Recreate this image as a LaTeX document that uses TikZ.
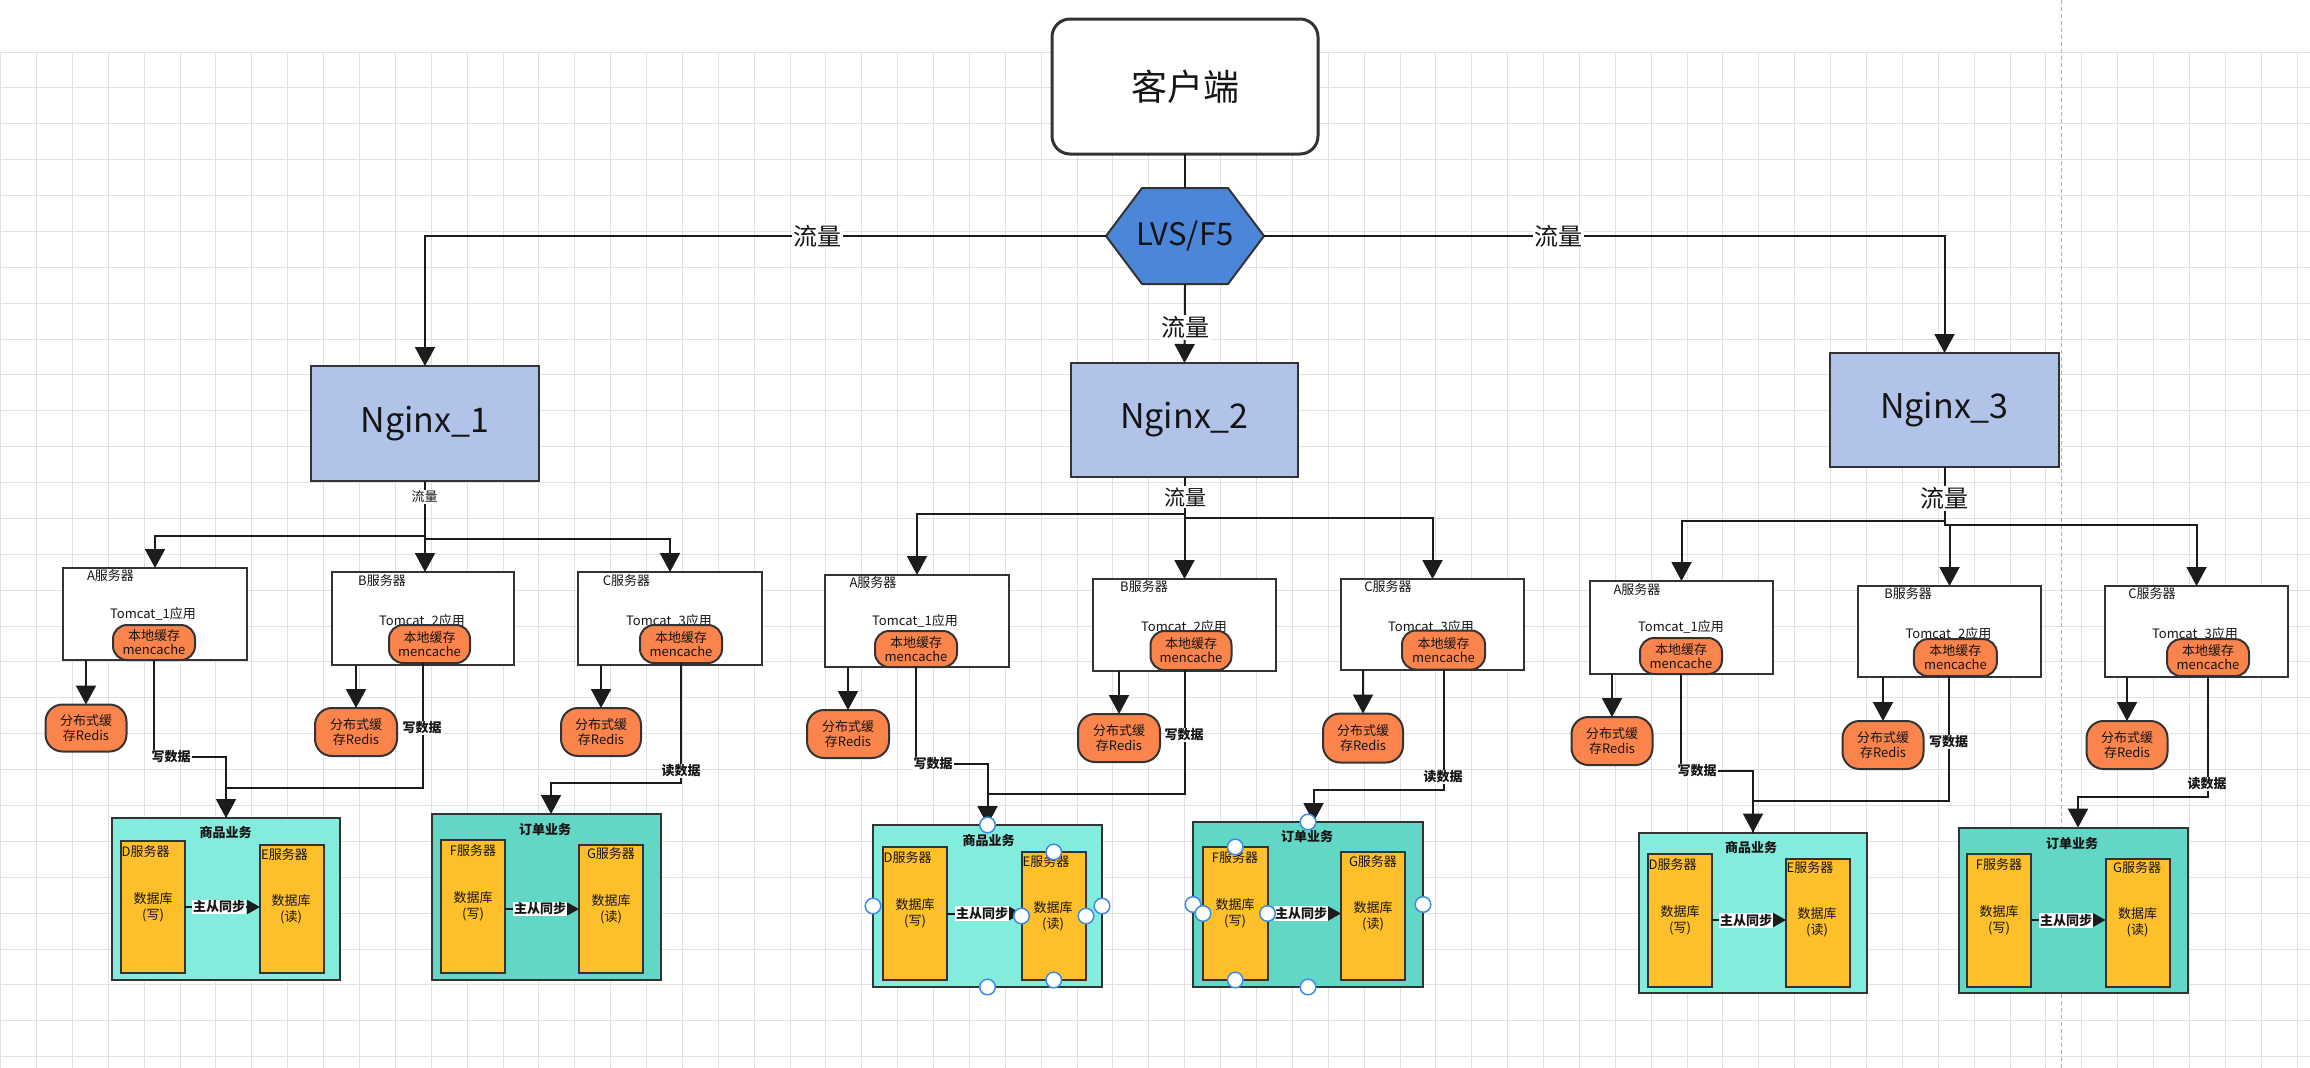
\documentclass[tikz,border=0pt]{standalone}
\usepackage{fontspec}
\setmainfont{Noto Sans CJK SC}
\usetikzlibrary{arrows.meta,calc}
\definecolor{gridc}{HTML}{E1E1E1}
\definecolor{bc}{HTML}{333333}
\definecolor{cc}{HTML}{1C1C1C}
\definecolor{txt}{HTML}{151515}
\definecolor{hexc}{HTML}{4B86D9}
\definecolor{ngc}{HTML}{B2C3EA}
\definecolor{orc}{HTML}{FA844C}
\definecolor{ylc}{HTML}{FDBF2A}
\definecolor{aqL}{HTML}{84ECDC}
\definecolor{aqD}{HTML}{62D7C5}
\definecolor{hdl}{HTML}{3D8BE8}
\tikzset{
  every node/.style={text=txt},
  plainbox/.style={draw=bc, line width=2pt, inner sep=0pt, outer sep=0pt},
  conn/.style={draw=cc, line width=2pt},
  bigtip/.style={-{Triangle[width=20pt,length=19pt]}},
  smalltip/.style={-{Triangle[width=14pt,length=13pt]}},
  fxiii/.style={font=\fontsize{13}{16}\selectfont, inner sep=0pt},
  clbl/.style={font=\bfseries\fontsize{13}{15}\selectfont, fill=white, inner sep=1pt},
  synclbl/.style={font=\bfseries\fontsize{13}{15}\selectfont, fill=white, inner sep=1pt},
  ttl/.style={font=\bfseries\fontsize{13}{15}\selectfont, inner sep=0pt},
  flowlbl/.style={fill=white, inner sep=1.5pt},
  nginxn/.style={plainbox, fill=ngc, line width=2.5pt, font=\fontsize{34}{38}\selectfont},
  srvn/.style={plainbox, fill=white},
  memn/.style={plainbox, fill=orc, rounded corners=14pt, align=center, font=\fontsize{13}{14}\selectfont},
  redisn/.style={plainbox, fill=orc, rounded corners=17pt, align=center, font=\fontsize{13}{14.5}\selectfont},
  bizl/.style={plainbox, fill=aqL},
  bizd/.style={plainbox, fill=aqD},
  dbn/.style={plainbox, fill=ylc},
  handle/.style={draw=hdl, fill=white, line width=1.5pt},
}
\begin{document}
\begin{tikzpicture}[x=1pt,y=-1pt]
\useasboundingbox (0,0) rectangle (2310,1068);
\fill[white] (0,0) rectangle (2310,1068);
% grid
\foreach \k in {0,...,64} \draw[gridc, line width=1pt] ({0.7+35.88*\k},52) -- ({0.7+35.88*\k},1068);
\foreach \k in {0,...,28} \draw[gridc, line width=1pt] (0,{52+35.88*\k}) -- (2310,{52+35.88*\k});
\draw[draw=black!30, line width=1pt, dash pattern=on 4pt off 3pt] (2061,0) -- (2061,1068);

% ===== top =====
\node[plainbox, fill=white, rounded corners=18pt, line width=3pt, minimum width=266pt, minimum height=135pt, font=\fontsize{36}{40}\selectfont] (client) at (1185,86.5) {客户端};
\node[minimum width=158pt, minimum height=96pt, inner sep=0pt, outer sep=0pt] (lvs) at (1185,236) {};
\draw[fill=hexc, draw=bc, line width=2pt] (lvs.west) -- ([xshift=36pt]lvs.north west) -- ([xshift=-36pt]lvs.north east) -- (lvs.east) -- ([xshift=-36pt]lvs.south east) -- ([xshift=36pt]lvs.south west) -- cycle;
\node[font=\fontsize{31}{34}\selectfont, inner sep=0pt] (lvst) at (lvs.center) {LVS/F5};

\node[nginxn, minimum width=228pt, minimum height=115pt] (N1) at (425,423.5) {Nginx\_1};
\node[nginxn, minimum width=227pt, minimum height=114pt] (N2) at (1184.5,420) {Nginx\_2};
\node[nginxn, minimum width=229pt, minimum height=114pt] (N3) at (1944.5,410) {Nginx\_3};

\draw[conn] (client.south) -- (lvs.north);
\draw[conn, bigtip] (lvs.west) -| (N1.north);
\draw[conn, bigtip] (lvs.east) -| (N3.north);
\draw[conn, bigtip] (lvs.south) -- (N2.north);
\node[flowlbl, font=\fontsize{24}{26}\selectfont] (fl1) at (817,236) {流量};
\node[flowlbl, font=\fontsize{24}{26}\selectfont] (fl3) at (1558,236) {流量};
\node[flowlbl, font=\fontsize{24}{26}\selectfont] (fl2) at (1185,327) {流量};

% ===== group 1 =====
\node[srvn, minimum width=184pt, minimum height=92pt] (A1) at (155,614) {};
\node[fxiii] (A1l) at (110.5,576) {A服务器};
\node[fxiii] (A1t) at (153,614) {Tomcat\_1应用};
\node[memn, minimum width=82pt, minimum height=35pt] (A1m) at (154,642.5) {本地缓存\\mencache};
\node[redisn, minimum width=81pt, minimum height=47pt] (A1r) at (86,728) {分布式缓\\存Redis};

\node[srvn, minimum width=182pt, minimum height=93pt] (B1) at (423,618.5) {};
\node[fxiii] (B1l) at (382,581) {B服务器};
\node[fxiii] (B1t) at (422,621) {Tomcat\_2应用};
\node[memn, minimum width=81pt, minimum height=38pt] (B1m) at (429.5,644) {本地缓存\\mencache};
\node[redisn, minimum width=82pt, minimum height=48pt] (B1r) at (356,732) {分布式缓\\存Redis};

\node[srvn, minimum width=184pt, minimum height=93pt] (C1) at (670,618.5) {};
\node[fxiii] (C1l) at (626.5,581) {C服务器};
\node[fxiii] (C1t) at (669,621) {Tomcat\_3应用};
\node[memn, minimum width=82pt, minimum height=38pt] (C1m) at (681,644) {本地缓存\\mencache};
\node[redisn, minimum width=80pt, minimum height=48pt] (C1r) at (601,732) {分布式缓\\存Redis};

\node[bizl, minimum width=228pt, minimum height=162pt] (S1) at (226,899) {};
\node[ttl] (S1t) at (225.5,833) {商品业务};
\node[dbn, minimum width=64pt, minimum height=132pt] (D1) at (153,907) {};
\node[fxiii, anchor=west] (D1l) at (121.5,851.5) {D服务器};
\node[fxiii, align=center] (D1t) at (153,907) {数据库\\(写)};
\node[dbn, minimum width=63.5pt, minimum height=128pt] (E1) at (291.75,909) {};
\node[fxiii, anchor=west] (E1l) at (261,855) {E服务器};
\node[fxiii, align=center] (E1t) at (291,909) {数据库\\(读)};
\draw[conn, smalltip] (D1.east) -- (D1.east -| E1.west);
\node[synclbl] (Y1) at (219,907) {主从同步};

\node[bizd, minimum width=229pt, minimum height=166pt] (O1) at (546.5,897) {};
\node[ttl] (O1t) at (545,830) {订单业务};
\node[dbn, minimum width=64pt, minimum height=133pt] (F1) at (473,906.5) {};
\node[fxiii] (F1l) at (473,851) {F服务器};
\node[fxiii, align=center] (F1t) at (473,906.5) {数据库\\(写)};
\node[dbn, minimum width=64pt, minimum height=128pt] (G1) at (611,909) {};
\node[fxiii] (G1l) at (611,854) {G服务器};
\node[fxiii, align=center] (G1t) at (611,909) {数据库\\(读)};
\draw[conn, smalltip] (F1.east |- G1.west) -- (G1.west);
\node[synclbl] (Z1) at (540,909) {主从同步};

\draw[conn, bigtip] (N1.south) -- ++(0,55) -| (A1.north);
\draw[conn, bigtip] (N1.south) -- ++(0,58) -| (C1.north);
\draw[conn, bigtip] (N1.south) -- (N1.south |- B1.north);
\node[flowlbl, font=\fontsize{13}{15}\selectfont] (N1f) at (424.5,497) {流量};
\draw[conn, bigtip] (A1r.north |- A1.south) -- (A1r.north);
\draw[conn, bigtip] (B1r.north |- B1.south) -- (B1r.north);
\draw[conn, bigtip] (C1r.north |- C1.south) -- (C1r.north);
\draw[conn, bigtip] (A1m.south) -- ++(0,97) -| (S1.north);
\draw[conn] ([xshift=-6.5pt]B1m.south) -- ++(0,125) -| (S1.north);
\draw[conn, bigtip] (C1m.south) -- ++(0,120) -| ([xshift=4.5pt]O1.north);
\node[clbl] (W1a) at (171,757) {写数据};
\node[clbl] (W1b) at (422,728) {写数据};
\node[clbl] (R1) at (681,771) {读数据};

% ===== group 2 =====
\node[srvn, minimum width=184pt, minimum height=92pt] (A2) at (917,621) {};
\node[fxiii] (A2l) at (873,583) {A服务器};
\node[fxiii] (A2t) at (915,621) {Tomcat\_1应用};
\node[memn, minimum width=82pt, minimum height=36pt] (A2m) at (916,649) {本地缓存\\mencache};
\node[redisn, minimum width=82pt, minimum height=48pt] (A2r) at (848,734) {分布式缓\\存Redis};

\node[srvn, minimum width=183pt, minimum height=92pt] (B2) at (1184.5,625) {};
\node[fxiii] (B2l) at (1144,587) {B服务器};
\node[fxiii] (B2t) at (1184,627) {Tomcat\_2应用};
\node[memn, minimum width=81pt, minimum height=39pt] (B2m) at (1191,650.5) {本地缓存\\mencache};
\node[redisn, minimum width=82pt, minimum height=48pt] (B2r) at (1119,738) {分布式缓\\存Redis};

\node[srvn, minimum width=183pt, minimum height=91pt] (C2) at (1432.5,624.5) {};
\node[fxiii] (C2l) at (1388,587) {C服务器};
\node[fxiii] (C2t) at (1431,627) {Tomcat\_3应用};
\node[memn, minimum width=83pt, minimum height=39pt] (C2m) at (1443.5,650) {本地缓存\\mencache};
\node[redisn, minimum width=80pt, minimum height=49pt] (C2r) at (1363,738) {分布式缓\\存Redis};

\node[bizl, minimum width=229pt, minimum height=162pt] (S2) at (987.5,906) {};
\node[ttl] (S2t) at (988.5,841) {商品业务};
\node[dbn, minimum width=64pt, minimum height=133pt] (D2) at (915,913.5) {};
\node[fxiii, anchor=west] (D2l) at (883.5,858) {D服务器};
\node[fxiii, align=center] (D2t) at (915,913.5) {数据库\\(写)};
\node[dbn, minimum width=64.5pt, minimum height=128pt] (E2) at (1053.75,916) {};
\node[fxiii, anchor=west] (E2l) at (1022.5,861.7) {E服务器};
\node[fxiii, align=center] (E2t) at (1053,916) {数据库\\(读)};
\draw[conn, smalltip] (D2.east) -- (D2.east -| E2.west);
\node[synclbl] (Y2) at (982,913.5) {主从同步};

\node[bizd, minimum width=230pt, minimum height=165pt] (O2) at (1308,904.5) {};
\node[ttl] (O2t) at (1307,837) {订单业务};
\node[dbn, minimum width=64.5pt, minimum height=133pt] (F2) at (1235.25,913.5) {};
\node[fxiii] (F2l) at (1235,858) {F服务器};
\node[fxiii, align=center] (F2t) at (1235,913.5) {数据库\\(写)};
\node[dbn, minimum width=64pt, minimum height=128pt] (G2) at (1373,916) {};
\node[fxiii] (G2l) at (1373,861.7) {G服务器};
\node[fxiii, align=center] (G2t) at (1373,916) {数据库\\(读)};
\draw[conn, smalltip] (F2.east) -- (F2.east -| G2.west);
\node[synclbl] (Z2) at (1301,913.5) {主从同步};

\draw[conn, bigtip] (N2.south) -- ++(0,37) -| (A2.north);
\draw[conn, bigtip] (N2.south) -- ++(0,41) -| (C2.north);
\draw[conn, bigtip] (N2.south) -- (N2.south |- B2.north);
\node[flowlbl, font=\fontsize{21}{23}\selectfont] (N2f) at (1185,497) {流量};
\draw[conn, bigtip] (A2r.north |- A2.south) -- (A2r.north);
\draw[conn, bigtip] (B2r.north |- B2.south) -- (B2r.north);
\draw[conn, bigtip] (C2r.north |- C2.south) -- (C2r.north);
\draw[conn, bigtip] (A2m.south) -- ++(0,97) -| (S2.north);
\draw[conn] ([xshift=-6pt]B2m.south) -- ++(0,124) -| (S2.north);
\draw[conn, bigtip] (C2m.south) -- ++(0,120.5) -| ([xshift=5.5pt]O2.north);
\node[clbl] (W2a) at (933,764) {写数据};
\node[clbl] (W2b) at (1184,735) {写数据};
\node[clbl] (R2) at (1443,777) {读数据};

% ===== group 3 =====
\node[srvn, minimum width=183pt, minimum height=93pt] (A3) at (1681.5,627.5) {};
\node[fxiii] (A3l) at (1637,590) {A服务器};
\node[fxiii] (A3t) at (1681,627) {Tomcat\_1应用};
\node[memn, minimum width=82pt, minimum height=36pt] (A3m) at (1681,656) {本地缓存\\mencache};
\node[redisn, minimum width=81pt, minimum height=48pt] (A3r) at (1612,741) {分布式缓\\存Redis};

\node[srvn, minimum width=183pt, minimum height=91pt] (B3) at (1949.5,631.5) {};
\node[fxiii] (B3l) at (1908,594) {B服务器};
\node[fxiii] (B3t) at (1948.5,634) {Tomcat\_2应用};
\node[memn, minimum width=83pt, minimum height=37pt] (B3m) at (1955.4,657.6) {本地缓存\\mencache};
\node[redisn, minimum width=81pt, minimum height=48pt] (B3r) at (1883,745) {分布式缓\\存Redis};

\node[srvn, minimum width=183pt, minimum height=91pt] (C3) at (2196.5,631.5) {};
\node[fxiii] (C3l) at (2152,594) {C服务器};
\node[fxiii] (C3t) at (2195,634) {Tomcat\_3应用};
\node[memn, minimum width=82pt, minimum height=37pt] (C3m) at (2208,657.6) {本地缓存\\mencache};
\node[redisn, minimum width=81pt, minimum height=48pt] (C3r) at (2127,745) {分布式缓\\存Redis};

\node[bizl, minimum width=228pt, minimum height=160.5pt] (S3) at (1753,912.75) {};
\node[ttl] (S3t) at (1751,848) {商品业务};
\node[dbn, minimum width=64pt, minimum height=133pt] (D3) at (1680,920) {};
\node[fxiii, anchor=west] (D3l) at (1648.5,864.6) {D服务器};
\node[fxiii, align=center] (D3t) at (1680,920) {数据库\\(写)};
\node[dbn, minimum width=63.5pt, minimum height=127.5pt] (E3) at (1817.75,922.75) {};
\node[fxiii, anchor=west] (E3l) at (1786.5,868) {E服务器};
\node[fxiii, align=center] (E3t) at (1817,922.75) {数据库\\(读)};
\draw[conn, smalltip] (D3.east) -- (D3.east -| E3.west);
\node[synclbl] (Y3) at (1746,920.5) {主从同步};

\node[bizd, minimum width=229pt, minimum height=165.4pt] (O3) at (2073.5,910.3) {};
\node[ttl] (O3t) at (2072,844) {订单业务};
\node[dbn, minimum width=64pt, minimum height=133pt] (F3) at (1999,920) {};
\node[fxiii] (F3l) at (1999,864.6) {F服务器};
\node[fxiii, align=center] (F3t) at (1999,920) {数据库\\(写)};
\node[dbn, minimum width=64pt, minimum height=127.5pt] (G3) at (2137.5,922.75) {};
\node[fxiii] (G3l) at (2137,868) {G服务器};
\node[fxiii, align=center] (G3t) at (2137.5,922.75) {数据库\\(读)};
\draw[conn, smalltip] (F3.east) -- (F3.east -| G3.west);
\node[synclbl] (Z3) at (2066,920.5) {主从同步};

\draw[conn, bigtip] (N3.south) -- ++(0,54) -| (A3.north);
\draw[conn, bigtip] (N3.south) -- ++(0,58) -| (C3.north);
\draw[conn, bigtip] (N3.south) -- ++(0,58) -| (B3.north);
\node[flowlbl, font=\fontsize{24}{26}\selectfont] (N3f) at (1944,498.6) {流量};
\draw[conn, bigtip] (A3r.north |- A3.south) -- (A3r.north);
\draw[conn, bigtip] (B3r.north |- B3.south) -- (B3r.north);
\draw[conn, bigtip] (C3r.north |- C3.south) -- (C3r.north);
\draw[conn, bigtip] (A3m.south) -- ++(0,97) -| (S3.north);
\draw[conn] ([xshift=-6pt]B3m.south) -- ++(0,125) -| (S3.north);
\draw[conn, bigtip] (C3m.south) -- ++(0,121) -| ([xshift=4.5pt]O3.north);
\node[clbl] (W3a) at (1697,771) {写数据};
\node[clbl] (W3b) at (1948.5,742) {写数据};
\node[clbl] (R3) at (2207,784) {读数据};

% selection handles
\foreach \n in {S2,E2,O2,F2}
  \foreach \a in {north,south,east,west}
    \draw[handle] (\n.\a) circle[radius=7.8pt];
\end{tikzpicture}
\end{document}
